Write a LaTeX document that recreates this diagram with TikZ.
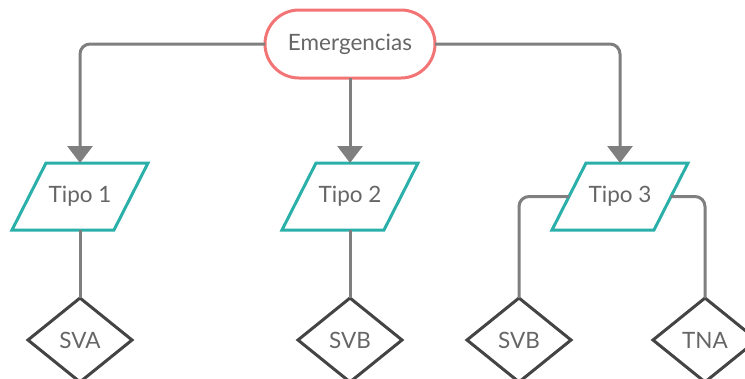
\documentclass[tikz,border=0pt]{standalone}
\usepackage{fontspec}
\setmainfont{Lato}
\usetikzlibrary{shapes.geometric,arrows.meta,calc}
\definecolor{linegray}{HTML}{7F7F7F}
\definecolor{pillred}{HTML}{F27474}
\definecolor{tealc}{HTML}{2AAFA9}
\definecolor{diagray}{HTML}{444444}
\definecolor{txtgray}{HTML}{666666}
\tikzset{
  txt/.style={text=txtgray, font=\fontsize{22.5}{26}\selectfont},
  pill/.style={txt, draw=pillred, line width=3pt, rounded corners=34pt, minimum width=170pt, minimum height=68pt, inner sep=0pt, outer sep=0pt},
  parabox/.style={txt, minimum width=136pt, minimum height=67pt, inner sep=0pt, outer sep=0pt},
  paraline/.style={draw=tealc, line width=3pt, line join=miter},
  dia/.style={txt, diamond, draw=diagray, line width=3pt, minimum width=104pt, minimum height=84pt, inner sep=0pt, outer sep=0pt},
  conn/.style={draw=linegray, line width=3pt, rounded corners=10pt},
  arr/.style={conn, -{Triangle[length=17pt,width=25pt]}}
}
\begin{document}
\begin{tikzpicture}[x=1pt,y=-1pt]
\useasboundingbox (0,0) rectangle (745,378);
% nodes
\node[pill] (em) at (350,44) {Emergencias};
\node[parabox] (t1) at (80,196.5) {Tipo 1};
\node[parabox] (t2) at (350,196.5) {Tipo 2};
\node[parabox] (t3) at (620,196.5) {Tipo 3};
\foreach \n in {t1,t2,t3}{
  \draw[paraline] ($(\n.center)+(-68,33.5)$) -- ($(\n.center)+(34,33.5)$) -- ($(\n.center)+(68,-33.5)$) -- ($(\n.center)+(-34,-33.5)$) -- cycle;
}
\node[dia] (d1) at (80,340) {SVA};
\node[dia] (d2) at (350,340) {SVB};
\node[dia] (d3) at (519,340) {SVB};
\node[dia] (d4) at (705,340) {TNA};
\coordinate (t3l) at ($(t3.center)+(-51,0)$);
\coordinate (t3r) at ($(t3.center)+(51,0)$);
% connectors
\draw[arr] (em.west) -| (t1.north);
\draw[arr] (em.south) -- (t2.north);
\draw[arr] (em.east) -| (t3.north);
\draw[conn] (t1.south) -- (d1.north);
\draw[conn] (t2.south) -- (d2.north);
\draw[conn] (t3l) -| (d3.north);
\draw[conn] (t3r) -| (d4.north);
\end{tikzpicture}
\end{document}
